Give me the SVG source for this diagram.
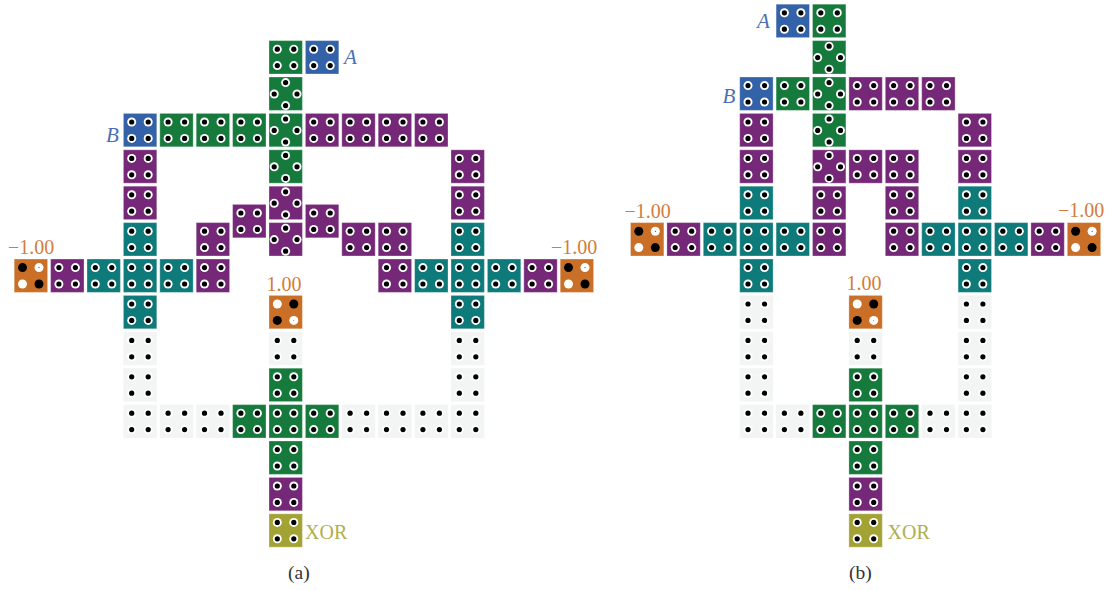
<svg xmlns="http://www.w3.org/2000/svg" width="1108" height="590" viewBox="0 0 1108 590">
<style>
.cell{width:33.4px;height:33.4px;stroke:#fff;stroke-opacity:.3;stroke-width:1}
.b{fill:#3462a8}.g{fill:#157a3c}.p{fill:#752878}.t{fill:#0f7a7a}.w{fill:#f3f4f4;stroke:none}.y{fill:#a3a235}.o{fill:#c96f27}
.h{fill:#fff}.k{fill:#000}
text{font-family:"Liberation Serif","Times New Roman",serif;font-size:20px}
.lo{fill:#d27c3c}.lb{fill:#4a6fb5;font-style:italic;font-size:21px}.ly{fill:#b0af50}.cap{fill:#333;font-size:19.5px}
</style>
<defs>
<g id="q"><circle class="h" cx="8.3" cy="8.6" r="4.5"/><circle class="h" cx="24.8" cy="8.6" r="4.5"/><circle class="h" cx="8.3" cy="25" r="4.5"/><circle class="h" cx="24.8" cy="25" r="4.5"/><circle class="k" cx="8.3" cy="8.6" r="2.6"/><circle class="k" cx="24.8" cy="8.6" r="2.6"/><circle class="k" cx="8.3" cy="25" r="2.6"/><circle class="k" cx="24.8" cy="25" r="2.6"/></g>
<g id="f"><circle class="h" cx="16.6" cy="5.6" r="4.5"/><circle class="h" cx="5.2" cy="17" r="4.5"/><circle class="h" cx="28" cy="17" r="4.5"/><circle class="h" cx="16.6" cy="28.6" r="4.5"/><circle class="k" cx="16.6" cy="5.6" r="2.6"/><circle class="k" cx="5.2" cy="17" r="2.6"/><circle class="k" cx="28" cy="17" r="2.6"/><circle class="k" cx="16.6" cy="28.6" r="2.6"/></g>
<g id="B"><rect class="cell b"/><use href="#q"/></g>
<g id="G"><rect class="cell g"/><use href="#q"/></g>
<g id="P"><rect class="cell p"/><use href="#q"/></g>
<g id="T"><rect class="cell t"/><use href="#q"/></g>
<g id="W"><rect class="cell w"/><use href="#q"/></g>
<g id="Y"><rect class="cell y"/><use href="#q"/></g>
<g id="GF"><rect class="cell g"/><use href="#f"/></g>
<g id="PF"><rect class="cell p"/><use href="#f"/></g>
<g id="ON"><rect class="cell o"/><circle class="k" cx="8.3" cy="8.6" r="4.5"/><circle class="h" cx="24.8" cy="8.6" r="4.5"/><circle class="k" cx="24.8" cy="8.6" r=".5"/><circle class="h" cx="8.3" cy="25" r="4.5"/><circle class="k" cx="24.8" cy="25" r="4.5"/></g>
<g id="OP"><rect class="cell o"/><circle class="h" cx="8.3" cy="8.6" r="4.5"/><circle class="k" cx="24.8" cy="8.6" r="4.5"/><circle class="k" cx="8.3" cy="25" r="4.5"/><circle class="h" cx="24.8" cy="25" r="4.5"/><circle class="k" cx="24.8" cy="25" r=".4"/></g>
</defs>
<g id="panel-a">
<g id="a01" transform="translate(269 40.6)"><use href="#G"/></g>
<g id="a02" transform="translate(305.4 40.6)"><use href="#B"/></g>
<g id="a03" transform="translate(269 77)"><use href="#GF"/></g>
<g id="a04" transform="translate(123.4 113.4)"><use href="#B"/></g>
<g id="a05" transform="translate(159.8 113.4)"><use href="#G"/></g>
<g id="a06" transform="translate(196.2 113.4)"><use href="#G"/></g>
<g id="a07" transform="translate(232.6 113.4)"><use href="#G"/></g>
<g id="a08" transform="translate(269 113.4)"><use href="#GF"/></g>
<g id="a09" transform="translate(305.4 113.4)"><use href="#P"/></g>
<g id="a10" transform="translate(341.8 113.4)"><use href="#P"/></g>
<g id="a11" transform="translate(378.2 113.4)"><use href="#P"/></g>
<g id="a12" transform="translate(414.6 113.4)"><use href="#P"/></g>
<g id="a13" transform="translate(123.4 149.8)"><use href="#P"/></g>
<g id="a14" transform="translate(269 149.8)"><use href="#GF"/></g>
<g id="a15" transform="translate(451 149.8)"><use href="#P"/></g>
<g id="a16" transform="translate(123.4 186.2)"><use href="#P"/></g>
<g id="a17" transform="translate(269 186.2)"><use href="#PF"/></g>
<g id="a18" transform="translate(451 186.2)"><use href="#P"/></g>
<g id="a19" transform="translate(232.6 204.4)"><use href="#P"/></g>
<g id="a20" transform="translate(305.4 204.4)"><use href="#P"/></g>
<g id="a21" transform="translate(123.4 222.6)"><use href="#T"/></g>
<g id="a22" transform="translate(196.2 222.6)"><use href="#P"/></g>
<g id="a23" transform="translate(269 222.6)"><use href="#PF"/></g>
<g id="a24" transform="translate(341.8 222.6)"><use href="#P"/></g>
<g id="a25" transform="translate(378.2 222.6)"><use href="#P"/></g>
<g id="a26" transform="translate(451 222.6)"><use href="#T"/></g>
<g id="a27" transform="translate(14.2 259)"><use href="#ON"/></g>
<g id="a28" transform="translate(50.6 259)"><use href="#P"/></g>
<g id="a29" transform="translate(87 259)"><use href="#T"/></g>
<g id="a30" transform="translate(123.4 259)"><use href="#T"/></g>
<g id="a31" transform="translate(159.8 259)"><use href="#T"/></g>
<g id="a32" transform="translate(196.2 259)"><use href="#P"/></g>
<g id="a33" transform="translate(378.2 259)"><use href="#P"/></g>
<g id="a34" transform="translate(414.6 259)"><use href="#T"/></g>
<g id="a35" transform="translate(451 259)"><use href="#T"/></g>
<g id="a36" transform="translate(487.4 259)"><use href="#T"/></g>
<g id="a37" transform="translate(523.8 259)"><use href="#P"/></g>
<g id="a38" transform="translate(560.2 259)"><use href="#ON"/></g>
<g id="a39" transform="translate(123.4 295.4)"><use href="#T"/></g>
<g id="a40" transform="translate(269 295.4)"><use href="#OP"/></g>
<g id="a41" transform="translate(451 295.4)"><use href="#T"/></g>
<g id="a42" transform="translate(123.4 331.8)"><use href="#W"/></g>
<g id="a43" transform="translate(269 331.8)"><use href="#W"/></g>
<g id="a44" transform="translate(451 331.8)"><use href="#W"/></g>
<g id="a45" transform="translate(123.4 368.2)"><use href="#W"/></g>
<g id="a46" transform="translate(269 368.2)"><use href="#G"/></g>
<g id="a47" transform="translate(451 368.2)"><use href="#W"/></g>
<g id="a48" transform="translate(123.4 404.6)"><use href="#W"/></g>
<g id="a49" transform="translate(159.8 404.6)"><use href="#W"/></g>
<g id="a50" transform="translate(196.2 404.6)"><use href="#W"/></g>
<g id="a51" transform="translate(232.6 404.6)"><use href="#G"/></g>
<g id="a52" transform="translate(269 404.6)"><use href="#G"/></g>
<g id="a53" transform="translate(305.4 404.6)"><use href="#G"/></g>
<g id="a54" transform="translate(341.8 404.6)"><use href="#W"/></g>
<g id="a55" transform="translate(378.2 404.6)"><use href="#W"/></g>
<g id="a56" transform="translate(414.6 404.6)"><use href="#W"/></g>
<g id="a57" transform="translate(451 404.6)"><use href="#W"/></g>
<g id="a58" transform="translate(269 441)"><use href="#G"/></g>
<g id="a59" transform="translate(269 477.4)"><use href="#P"/></g>
<g id="a60" transform="translate(269 513.8)"><use href="#Y"/></g>
<text class="lb" x="344" y="64">A</text>
<text class="lb" x="106" y="141.5">B</text>
<text class="lo" x="8" y="254">−1.00</text>
<text class="lo" x="551" y="254">−1.00</text>
<text class="lo" x="266.5" y="291">1.00</text>
<text class="ly" x="305" y="539">XOR</text>
<text class="cap" x="288" y="579">(a)</text>
</g>
<g id="panel-b">
<g id="b01" transform="translate(776.1 4.2)"><use href="#B"/></g>
<g id="b02" transform="translate(812.5 4.2)"><use href="#G"/></g>
<g id="b03" transform="translate(812.5 40.6)"><use href="#GF"/></g>
<g id="b04" transform="translate(739.7 77)"><use href="#B"/></g>
<g id="b05" transform="translate(776.1 77)"><use href="#G"/></g>
<g id="b06" transform="translate(812.5 77)"><use href="#GF"/></g>
<g id="b07" transform="translate(848.9 77)"><use href="#P"/></g>
<g id="b08" transform="translate(885.3 77)"><use href="#P"/></g>
<g id="b09" transform="translate(921.7 77)"><use href="#P"/></g>
<g id="b10" transform="translate(739.7 113.4)"><use href="#P"/></g>
<g id="b11" transform="translate(812.5 113.4)"><use href="#GF"/></g>
<g id="b12" transform="translate(958.1 113.4)"><use href="#P"/></g>
<g id="b13" transform="translate(739.7 149.8)"><use href="#P"/></g>
<g id="b14" transform="translate(812.5 149.8)"><use href="#PF"/></g>
<g id="b15" transform="translate(848.9 149.8)"><use href="#P"/></g>
<g id="b16" transform="translate(885.3 149.8)"><use href="#P"/></g>
<g id="b17" transform="translate(958.1 149.8)"><use href="#P"/></g>
<g id="b18" transform="translate(739.7 186.2)"><use href="#T"/></g>
<g id="b19" transform="translate(812.5 186.2)"><use href="#P"/></g>
<g id="b20" transform="translate(885.3 186.2)"><use href="#P"/></g>
<g id="b21" transform="translate(958.1 186.2)"><use href="#T"/></g>
<g id="b22" transform="translate(630.5 222.6)"><use href="#ON"/></g>
<g id="b23" transform="translate(666.9 222.6)"><use href="#P"/></g>
<g id="b24" transform="translate(703.3 222.6)"><use href="#T"/></g>
<g id="b25" transform="translate(739.7 222.6)"><use href="#T"/></g>
<g id="b26" transform="translate(776.1 222.6)"><use href="#T"/></g>
<g id="b27" transform="translate(812.5 222.6)"><use href="#P"/></g>
<g id="b28" transform="translate(885.3 222.6)"><use href="#P"/></g>
<g id="b29" transform="translate(921.7 222.6)"><use href="#T"/></g>
<g id="b30" transform="translate(958.1 222.6)"><use href="#T"/></g>
<g id="b31" transform="translate(994.5 222.6)"><use href="#T"/></g>
<g id="b32" transform="translate(1030.9 222.6)"><use href="#P"/></g>
<g id="b33" transform="translate(1067.3 222.6)"><use href="#ON"/></g>
<g id="b34" transform="translate(739.7 259)"><use href="#T"/></g>
<g id="b35" transform="translate(958.1 259)"><use href="#T"/></g>
<g id="b36" transform="translate(739.7 295.4)"><use href="#W"/></g>
<g id="b37" transform="translate(848.9 295.4)"><use href="#OP"/></g>
<g id="b38" transform="translate(958.1 295.4)"><use href="#W"/></g>
<g id="b39" transform="translate(739.7 331.8)"><use href="#W"/></g>
<g id="b40" transform="translate(848.9 331.8)"><use href="#W"/></g>
<g id="b41" transform="translate(958.1 331.8)"><use href="#W"/></g>
<g id="b42" transform="translate(739.7 368.2)"><use href="#W"/></g>
<g id="b43" transform="translate(848.9 368.2)"><use href="#G"/></g>
<g id="b44" transform="translate(958.1 368.2)"><use href="#W"/></g>
<g id="b45" transform="translate(739.7 404.6)"><use href="#W"/></g>
<g id="b46" transform="translate(776.1 404.6)"><use href="#W"/></g>
<g id="b47" transform="translate(812.5 404.6)"><use href="#G"/></g>
<g id="b48" transform="translate(848.9 404.6)"><use href="#G"/></g>
<g id="b49" transform="translate(885.3 404.6)"><use href="#G"/></g>
<g id="b50" transform="translate(921.7 404.6)"><use href="#W"/></g>
<g id="b51" transform="translate(958.1 404.6)"><use href="#W"/></g>
<g id="b52" transform="translate(848.9 441)"><use href="#G"/></g>
<g id="b53" transform="translate(848.9 477.4)"><use href="#P"/></g>
<g id="b54" transform="translate(848.9 513.8)"><use href="#Y"/></g>
<text class="lb" x="757" y="27.5">A</text>
<text class="lb" x="722.5" y="102.5">B</text>
<text class="lo" x="624.5" y="218">−1.00</text>
<text class="lo" x="1058" y="217">−1.00</text>
<text class="lo" x="846.5" y="290">1.00</text>
<text class="ly" x="887.5" y="539">XOR</text>
<text class="cap" x="849" y="579">(b)</text>
</g>
</svg>
